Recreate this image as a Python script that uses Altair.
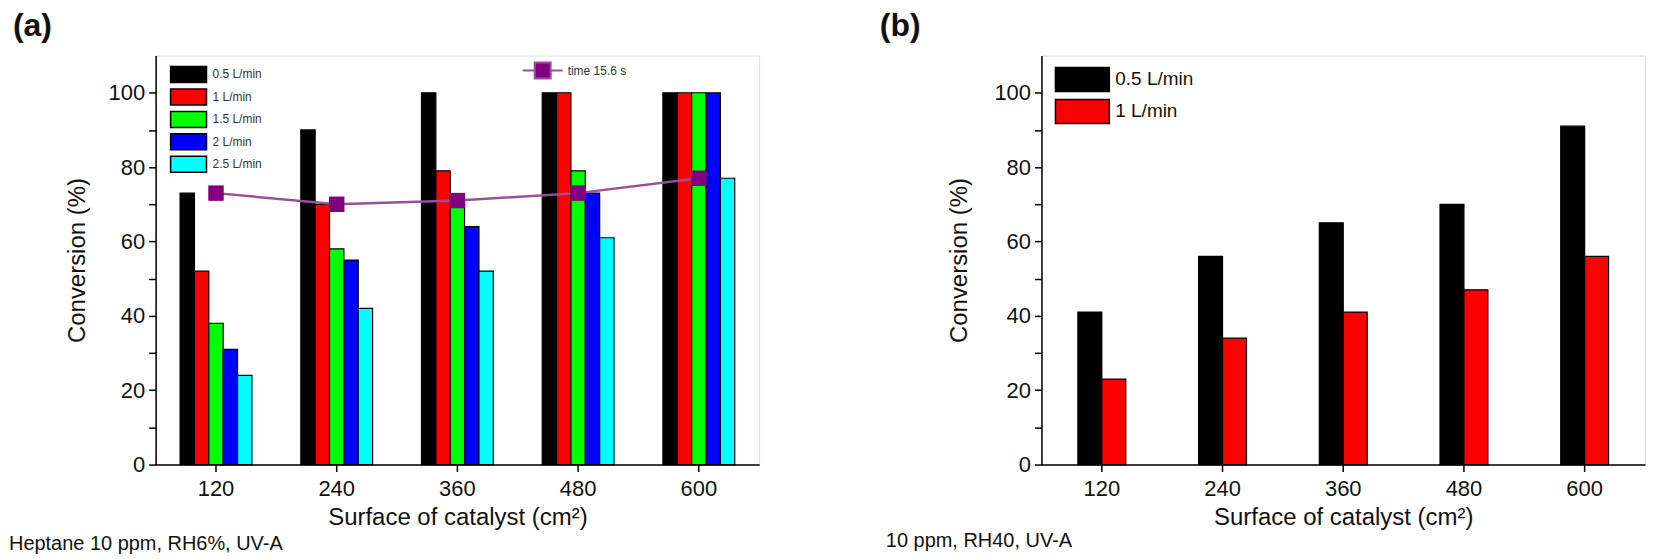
import altair as alt
import pandas as pd

# ---------------- data ----------------
surface = ["120", "240", "360", "480", "600"]

flows_a = ["0.5 L/min", "1 L/min", "1.5 L/min", "2 L/min", "2.5 L/min"]
colors_a = ["#000000", "#ff0000", "#00ff00", "#0000ff", "#00ffff"]
conv_a_05 = [73, 90, 100, 100, 100]
conv_a_10 = [52, 70, 79, 100, 100]
conv_a_15 = [38, 58, 70, 79, 100]
conv_a_20 = [31, 55, 64, 73, 100]
conv_a_25 = [24, 42, 52, 61, 77]

time_label = "time 15.6 s"
time_vals = [73, 70, 71, 73, 77]

flows_b = ["0.5 L/min ", "1 L/min "]
colors_b = ["#000000", "#ff0000"]
conv_b_05 = [41, 56, 65, 70, 91]
conv_b_10 = [23, 34, 41, 47, 56]

caption_a = "Heptane 10 ppm, RH6%, UV-A"
caption_b = "10 ppm, RH40, UV-A"

# ---------------- tables ----------------
rows_a = []
for f, vals in zip(flows_a, [conv_a_05, conv_a_10, conv_a_15, conv_a_20, conv_a_25]):
    for s, v in zip(surface, vals):
        rows_a.append({"surface": s, "flow": f, "conv": v})
df_a = pd.DataFrame(rows_a)
df_time = pd.DataFrame({"surface": surface, "conv": time_vals, "series": [time_label] * 5})

rows_b = []
for f, vals in zip(flows_b, [conv_b_05, conv_b_10]):
    for s, v in zip(surface, vals):
        rows_b.append({"surface": s, "flow": f, "conv": v})
df_b = pd.DataFrame(rows_b)

FONT = "Liberation Sans"
W, H = 605, 410
RECT = "M-2.25,-1H2.25V1H-2.25Z"


def x_enc(pin):
    return alt.X(
        "surface:N", sort=surface,
        scale=alt.Scale(domain=surface, paddingInner=pin, paddingOuter=pin / 2),
        axis=alt.Axis(
            title="Surface of catalyst (cm²)", labelAngle=0, tickSize=7, tickWidth=1.5,
            tickColor="black", domainColor="black", domainWidth=1.5,
            labelFontSize=22, labelFont=FONT, labelColor="#111", labelPadding=17,
            labelBaseline="middle",
            titleFontSize=24, titleFont=FONT, titleFontWeight="normal", titleColor="#111",
            titleY=53, titleBaseline="middle",
        ),
    )


def y_enc(title_x):
    return alt.Y(
        "conv:Q",
        scale=alt.Scale(domain=[0, 110], nice=False, zero=True),
        axis=alt.Axis(
            title="Conversion (%)", values=list(range(0, 101, 10)),
            labelExpr="datum.value % 20 == 0 ? datum.label : ''",
            tickSize=7, tickWidth=1.5, tickColor="black", domainColor="black", domainWidth=1.5,
            grid=False, labelFontSize=22, labelFont=FONT, labelColor="#111", labelPadding=4,
            titleFontSize=24, titleFont=FONT, titleFontWeight="normal", titleColor="#111",
            titleX=title_x, titleY=H / 2, titleBaseline="middle", titleAlign="center",
        ),
    )


def text_layer(txt, x, y, size, bold=False, baseline="middle"):
    return alt.Chart(pd.DataFrame({"t": [txt]})).mark_text(
        align="left", baseline=baseline, fontSize=size, font=FONT,
        fontWeight="bold" if bold else "normal", color="#111",
    ).encode(text="t:N", x=alt.value(x), y=alt.value(y))


# ---------------- panel (a) ----------------
pin_a = 1 - 72 / 121
bars_a = alt.Chart(df_a).mark_bar(stroke="black", strokeWidth=1.2, opacity=1).encode(
    x=x_enc(pin_a),
    xOffset=alt.XOffset("flow:N", sort=flows_a, scale=alt.Scale(domain=flows_a)),
    y=y_enc(-78),
    color=alt.Color(
        "flow:N", sort=flows_a,
        scale=alt.Scale(domain=flows_a, range=colors_a),
        legend=alt.Legend(
            orient="none", legendX=24, legendY=10, title=None, padding=0,
            symbolType=RECT, symbolSize=256, symbolStrokeColor="black", symbolStrokeWidth=1.5,
            symbolOpacity=1, labelFontSize=12, labelFont=FONT, labelColor="#333",
            labelOffset=15, rowPadding=0.5,
        ),
    ),
)
line_a = alt.Chart(df_time).mark_line(color="#9b4f9b", strokeWidth=2.5).encode(
    x=alt.X("surface:N", sort=surface),
    y=alt.Y("conv:Q"),
)
pts_a = alt.Chart(df_time).mark_point(shape="square", filled=True, size=240, opacity=1).encode(
    x=alt.X("surface:N", sort=surface),
    y=alt.Y("conv:Q"),
    fill=alt.Fill(
        "series:N",
        scale=alt.Scale(domain=[time_label], range=["#800080"]),
        legend=alt.Legend(
            orient="none", legendX=379, legendY=6, title=None, padding=0,
            symbolType="M-2.5,0H-1M1,0H2.5M-1,-1H1V1H-1Z", symbolSize=256,
            symbolStrokeColor="#9b4f9b", symbolStrokeWidth=2, symbolOpacity=1,
            labelFontSize=12, labelFont=FONT, labelColor="#333", labelOffset=16,
        ),
    ),
)
panel_a = alt.layer(
    bars_a, line_a, pts_a,
    text_layer("(a)", -143, -45, 32, bold=True, baseline="top"),
    text_layer(caption_a, -147, 490, 20),
).resolve_scale(color="independent", fill="independent").properties(width=W, height=H)

# ---------------- panel (b) ----------------
pin_b = 1 - 48 / 121
bars_b = alt.Chart(df_b).mark_bar(stroke="black", strokeWidth=1.2, opacity=1).encode(
    x=x_enc(pin_b),
    xOffset=alt.XOffset("flow:N", sort=flows_b, scale=alt.Scale(domain=flows_b)),
    y=y_enc(-82),
    color=alt.Color(
        "flow:N", sort=flows_b,
        scale=alt.Scale(domain=flows_b, range=colors_b),
        legend=alt.Legend(
            orient="none", legendX=28, legendY=11, title=None, padding=0,
            symbolType=RECT, symbolSize=576, symbolStrokeColor="black", symbolStrokeWidth=1.5,
            symbolOpacity=1, labelFontSize=19, labelFont=FONT, labelColor="#111",
            labelOffset=20, rowPadding=2,
        ),
    ),
)
panel_b = alt.layer(
    bars_b,
    text_layer("(b)", -162, -45, 32, bold=True, baseline="top"),
    text_layer(caption_b, -156, 487, 20),
).properties(width=W, height=H)

chart = alt.hconcat(panel_a, panel_b, spacing=119).resolve_scale(
    x="independent", xOffset="independent", color="independent", fill="independent"
).resolve_legend(color="independent", fill="independent").properties(
    padding=0
).configure_view(stroke="#222", strokeWidth=2).configure(font=FONT)

chart.save("out.html", embed_options={"renderer": "svg", "actions": False})
